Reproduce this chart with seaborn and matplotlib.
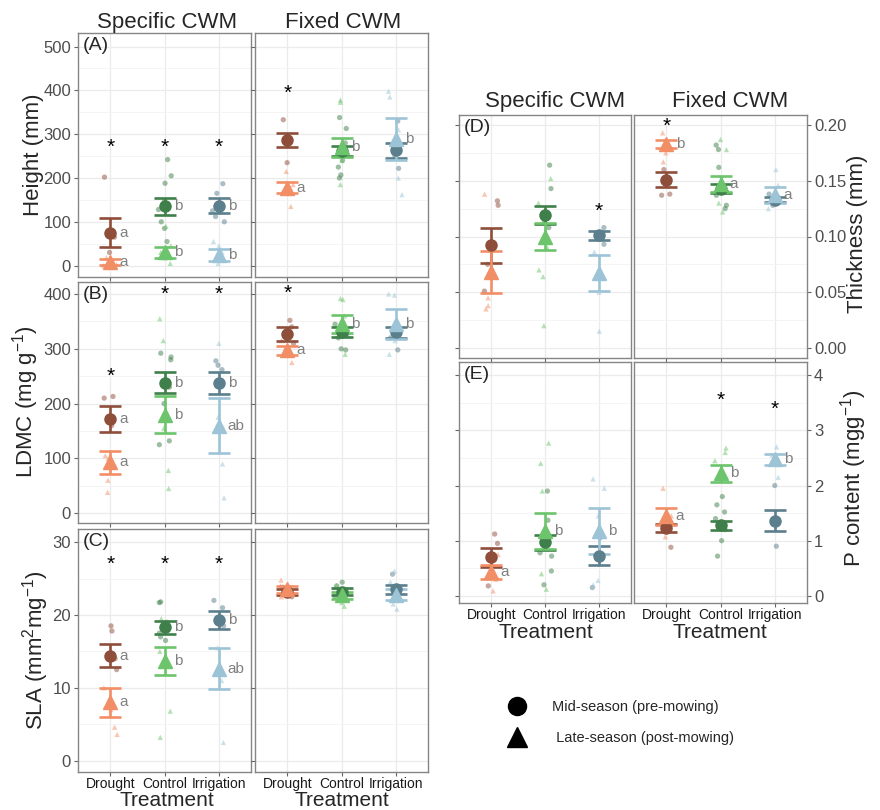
import numpy as np
import pandas as pd
import seaborn as sns
import matplotlib.pyplot as plt
from matplotlib.lines import Line2D

treatments = ["Drought", "Control", "Irrigation"]

# ---- (A) Height (mm)
height_spec_mid_mean = [75, 135, 137]
height_spec_mid_se = [33, 20, 17]
height_spec_late_mean = [8, 30, 25]
height_spec_late_se = [7, 13, 14]
height_spec_mid_pts = [[202, 65, 30], [242, 205, 188, 148, 128, 100, 85, 55], [187, 165, 125, 112, 100]]
height_spec_late_pts = [[18, 8, 3, 0], [90, 45, 30, 18, 5], [55, 45, 30, 12, 5]]
height_spec_mid_let = ["a", "b", "b"]
height_spec_late_let = ["a", "b", "b"]
height_spec_stars = [270, 270, 270]

height_fix_mid_mean = [287, 262, 263]
height_fix_mid_se = [16, 12, 17]
height_fix_late_mean = [178, 270, 290]
height_fix_late_se = [12, 22, 48]
height_fix_mid_pts = [[333, 295, 280, 235], [338, 313, 280, 250, 240, 225, 207, 200], [330, 270, 250, 222]]
height_fix_late_pts = [[215, 185, 170, 135], [378, 373, 270, 240, 185], [398, 385, 310, 270, 200, 162]]
height_fix_mid_let = ["", "", ""]
height_fix_late_let = ["a", "b", "b"]
height_fix_stars = [393, None, None]

# ---- (B) LDMC (mg g-1)
ldmc_spec_mid_mean = [172, 238, 238]
ldmc_spec_mid_se = [23, 19, 20]
ldmc_spec_late_mean = [93, 180, 160]
ldmc_spec_late_se = [21, 34, 50]
ldmc_spec_mid_pts = [[213, 210, 175, 160], [292, 285, 280, 230, 200, 132, 125], [278, 270, 262, 240]]
ldmc_spec_late_pts = [[105, 100, 60, 38], [355, 315, 155, 78, 45], [310, 175, 90, 28]]
ldmc_spec_mid_let = ["a", "b", "b"]
ldmc_spec_late_let = ["a", "b", "ab"]
ldmc_spec_stars = [250, 400, 400]

ldmc_fix_mid_mean = [327, 330, 330]
ldmc_fix_mid_se = [12, 9, 10]
ldmc_fix_late_mean = [297, 345, 345]
ldmc_fix_late_se = [8, 16, 27]
ldmc_fix_mid_pts = [[352, 340, 310], [345, 325, 320, 300, 298], [340, 320, 298]]
ldmc_fix_late_pts = [[315, 300, 275], [392, 390, 360, 340, 290], [400, 398, 315, 290]]
ldmc_fix_mid_let = ["", "", ""]
ldmc_fix_late_let = ["a", "b", "b"]
ldmc_fix_stars = [401, None, None]

# ---- (C) SLA (mm2 mg-1)
sla_spec_mid_mean = [14.4, 18.3, 19.3]
sla_spec_mid_se = [1.6, 0.9, 1.2]
sla_spec_late_mean = [8.0, 13.7, 12.6]
sla_spec_late_se = [2.0, 1.9, 2.8]
sla_spec_mid_pts = [[18.5, 17.8, 14, 12.5], [21.7, 21.8, 19, 17.5, 17, 16.5], [22, 21, 18.5]]
sla_spec_late_pts = [[10, 7, 4.6, 3.6], [19.5, 15, 13, 6.8, 3.2], [15.5, 11, 2.5]]
sla_spec_mid_let = ["a", "b", "b"]
sla_spec_late_let = ["a", "b", "ab"]
sla_spec_stars = [27, 27, 27]

sla_fix_mid_mean = [23.1, 23.2, 23.5]
sla_fix_mid_se = [0.4, 0.5, 0.6]
sla_fix_late_mean = [23.5, 22.7, 22.8]
sla_fix_late_se = [0.5, 0.5, 0.8]
sla_fix_mid_pts = [[23.8, 23, 22.5], [24.5, 24, 22.5], [25.6, 22]]
sla_fix_late_pts = [[24.8, 24, 23, 22.5], [24, 23.8, 21.7, 21.2], [26, 24.5, 21.5, 20.8]]
sla_fix_mid_let = ["", "", ""]
sla_fix_late_let = ["", "", ""]
sla_fix_stars = [None, None, None]

# ---- (D) Thickness (mm)
thick_spec_mid_mean = [0.092, 0.119, 0.101]
thick_spec_mid_se = [0.016, 0.008, 0.004]
thick_spec_late_mean = [0.068, 0.100, 0.067]
thick_spec_late_se = [0.019, 0.012, 0.016]
thick_spec_mid_pts = [[0.132, 0.128, 0.075, 0.051], [0.164, 0.143, 0.113, 0.108], [0.108, 0.100, 0.093]]
thick_spec_late_pts = [[0.138, 0.045, 0.038, 0.035], [0.152, 0.130, 0.090, 0.070, 0.064, 0.020], [0.086, 0.050, 0.015]]
thick_spec_mid_let = ["", "", ""]
thick_spec_late_let = ["", "", ""]
thick_spec_stars = [None, None, 0.123]

thick_fix_mid_mean = [0.151, 0.143, 0.133]
thick_fix_mid_se = [0.007, 0.004, 0.002]
thick_fix_late_mean = [0.183, 0.147, 0.137]
thick_fix_late_se = [0.004, 0.007, 0.007]
thick_fix_mid_pts = [[0.160, 0.138, 0.137], [0.182, 0.178, 0.162, 0.137, 0.128, 0.125], [0.138, 0.128]]
thick_fix_late_pts = [[0.193, 0.175, 0.167], [0.187, 0.178, 0.130, 0.122], [0.160, 0.146, 0.125]]
thick_fix_mid_let = ["", "", ""]
thick_fix_late_let = ["b", "a", "a"]
thick_fix_stars = [0.1985, None, None]

# ---- (E) P content (mg g-1)
p_spec_mid_mean = [0.70, 0.97, 0.73]
p_spec_mid_se = [0.17, 0.14, 0.17]
p_spec_late_mean = [0.43, 1.18, 1.18]
p_spec_late_se = [0.12, 0.33, 0.42]
p_spec_mid_pts = [[1.12, 0.95, 0.75, 0.18], [1.90, 1.37, 1.10, 0.78, 0.72, 0.45, 0.20], [1.05, 0.15]]
p_spec_late_pts = [[0.75, 0.30, 0.09], [2.77, 2.40, 1.90, 0.40, 0.12], [2.12, 1.95, 1.45, 0.28, 0.20]]
p_spec_mid_let = ["", "", ""]
p_spec_late_let = ["a", "b", "b"]
p_spec_stars = [None, None, None]

p_fix_mid_mean = [1.23, 1.28, 1.36]
p_fix_mid_se = [0.08, 0.08, 0.19]
p_fix_late_mean = [1.44, 2.22, 2.48]
p_fix_late_se = [0.16, 0.16, 0.10]
p_fix_mid_pts = [[1.35, 0.88], [1.80, 1.65, 1.52, 1.40, 1.20, 1.00, 0.72], [2.00, 0.90]]
p_fix_late_pts = [[1.95, 1.45, 1.07], [2.68, 2.60, 2.45], [2.70, 2.55, 2.15]]
p_fix_mid_let = ["", "", ""]
p_fix_late_let = ["a", "b", "b"]
p_fix_stars = [None, 3.55, 3.38]

mid_pal = {"Drought": "#8E4E3A", "Control": "#3F7F4A", "Irrigation": "#5B7F8C"}
late_pal = {"Drought": "#F28E66", "Control": "#6CC46C", "Irrigation": "#9DC4D6"}

sns.set_style("white")
plt.rcParams['font.family'] = ['Liberation Sans', 'DejaVu Sans']
plt.rcParams['mathtext.default'] = 'regular'
np.random.seed(7)

W, H = 880, 810
fig = plt.figure(figsize=(8.8, 8.1), dpi=100)


def add_ax(x0, y0, x1, y1):
    return fig.add_axes([x0 / W, 1 - y1 / H, (x1 - x0) / W, (y1 - y0) / H])


def draw(ax, g, ylim, major, minor, ylab="left", xlab=False, tag=None, fmt=None):
    mid_mean, mid_se, late_mean, late_se, mid_pts, late_pts, mid_let, late_let, stars = g
    rows = [(t, "mid", v) for t, vals in zip(treatments, mid_pts) for v in vals]
    rows += [(t, "late", v) for t, vals in zip(treatments, late_pts) for v in vals]
    df = pd.DataFrame(rows, columns=["Treatment", "Season", "Value"])
    for season, mk, pal in (("mid", "o", mid_pal), ("late", "^", late_pal)):
        sns.stripplot(data=df[df["Season"] == season], x="Treatment", y="Value",
                      hue="Treatment", order=treatments, hue_order=treatments,
                      palette=pal, marker=mk, size=3.8, alpha=0.5, jitter=0.13,
                      linewidth=0, legend=False, ax=ax, zorder=2)
    for means, ses, lets, mk, pal, ms in ((mid_mean, mid_se, mid_let, "o", mid_pal, 8),
                                         (late_mean, late_se, late_let, "^", late_pal, 10)):
        for i, t in enumerate(treatments):
            ax.errorbar(i, means[i], yerr=ses[i], fmt=mk, color=pal[t], mec=pal[t], ms=ms,
                        elinewidth=1.9, capsize=8, capthick=1.9, zorder=4)
            if lets[i]:
                ax.text(i + 0.17, means[i], lets[i], color="#808080", fontsize=11,
                        ha="left", va="center", zorder=5)
    for i, s in enumerate(stars):
        if s is not None:
            ax.text(i, s, "*", ha="center", va="center", fontsize=15, color="black")

    ax.set_xlim(-0.6, 2.6)
    ax.set_ylim(*ylim)
    ax.set_xticks(range(3))
    ax.set_xticklabels(treatments)
    ax.set_yticks(major)
    ax.set_yticks(minor, minor=True)
    if fmt:
        ax.set_yticklabels([fmt % v for v in major])
    ax.set_xlabel("")
    ax.set_ylabel("")
    ax.grid(True, which="major", color="#EBEBEB", lw=0.9)
    ax.grid(True, which="minor", axis="y", color="#F3F3F3", lw=0.6)
    ax.set_axisbelow(True)
    ax.tick_params(which="minor", length=0)
    ax.tick_params(which="major", length=3, width=0.8, color="#666666",
                   labelcolor="#4D4D4D", labelsize=12, pad=2)
    ax.tick_params(axis="x", labelcolor="#1A1A1A", labelsize=10, pad=0.3,
                   bottom=True, labelbottom=xlab)
    if ylab == "left":
        ax.tick_params(axis="y", left=True, labelleft=True)
    elif ylab == "right":
        ax.yaxis.tick_right()
        ax.tick_params(axis="y", right=True, labelright=True, left=False, labelleft=False)
    else:
        ax.tick_params(axis="y", left=True, labelleft=False)
    for sp in ax.spines.values():
        sp.set_color("#858585")
        sp.set_linewidth(1)
    if tag:
        ax.text(0.025, 0.985, tag, transform=ax.transAxes, ha="left", va="top", fontsize=14)


def grp(prefix):
    ns = globals()
    keys = ["mid_mean", "mid_se", "late_mean", "late_se", "mid_pts", "late_pts",
            "mid_let", "late_let", "stars"]
    return [ns[prefix + "_" + k] for k in keys]


h_lim, h_maj, h_min = (-26, 531), [0, 100, 200, 300, 400, 500], [50, 150, 250, 350, 450]
l_lim, l_maj, l_min = (-18, 422), [0, 100, 200, 300, 400], [50, 150, 250, 350]
s_lim, s_maj, s_min = (-1.55, 31.8), [0, 10, 20, 30], [5, 15, 25]
t_lim, t_maj, t_min = (-0.009, 0.209), [0, 0.05, 0.10, 0.15, 0.20], [0.025, 0.075, 0.125, 0.175]
p_lim, p_maj, p_min = (-0.13, 4.24), [0, 1, 2, 3, 4], [0.5, 1.5, 2.5, 3.5]

draw(add_ax(78, 33, 251, 277), grp("height_spec"), h_lim, h_maj, h_min, "left", False, "(A)")
draw(add_ax(255, 33, 428, 277), grp("height_fix"), h_lim, h_maj, h_min, "none", False)
draw(add_ax(78, 282, 251, 523), grp("ldmc_spec"), l_lim, l_maj, l_min, "left", False, "(B)")
draw(add_ax(255, 282, 428, 523), grp("ldmc_fix"), l_lim, l_maj, l_min, "none", False)
draw(add_ax(78, 529, 251, 772), grp("sla_spec"), s_lim, s_maj, s_min, "left", True, "(C)")
draw(add_ax(255, 529, 428, 772), grp("sla_fix"), s_lim, s_maj, s_min, "none", True)
draw(add_ax(459, 115, 631, 358), grp("thick_spec"), t_lim, t_maj, t_min, "none", False, "(D)")
draw(add_ax(634, 115, 807, 358), grp("thick_fix"), t_lim, t_maj, t_min, "right", False, fmt="%.2f")
draw(add_ax(459, 362, 631, 603), grp("p_spec"), p_lim, p_maj, p_min, "none", True, "(E)")
draw(add_ax(634, 362, 807, 603), grp("p_fix"), p_lim, p_maj, p_min, "right", True)

# strip titles
for x, y, s in [(167, 28, "Specific CWM"), (343, 28, "Fixed CWM"),
                (555, 107, "Specific CWM"), (730, 107, "Fixed CWM")]:
    fig.text(x / W, 1 - y / H, s, ha="center", va="baseline", fontsize=16)

# axis titles
for x, y, s in [(167, 806, "Treatment"), (342, 806, "Treatment"),
                (546, 638, "Treatment"), (720, 638, "Treatment")]:
    fig.text(x / W, 1 - y / H, s, ha="center", va="baseline", fontsize=15)

for x, y, s in [(34, 155, "Height (mm)"), (26, 402, "LDMC (mg g$^{-1}$)"),
                (36, 650, "SLA (mm$^{2}$mg$^{-1}$)"),
                (857, 234, "Thickness (mm)"), (854, 478, "P content (mgg$^{-1}$)")]:
    fig.text(x / W, 1 - y / H, s, ha="center", va="center", rotation=90, fontsize=16)

handles = [Line2D([], [], marker="o", color="black", ls="none", ms=13),
           Line2D([], [], marker="^", color="black", ls="none", ms=14)]
fig.legend(handles, ["Mid-season (pre-mowing)", " Late-season (post-mowing)"],
           loc="upper left", bbox_to_anchor=(497 / W, 1 - 694 / H), frameon=False,
           fontsize=10.5, handletextpad=1.4, labelspacing=1.2, borderaxespad=0)

fig.savefig("out.png", dpi=100)
